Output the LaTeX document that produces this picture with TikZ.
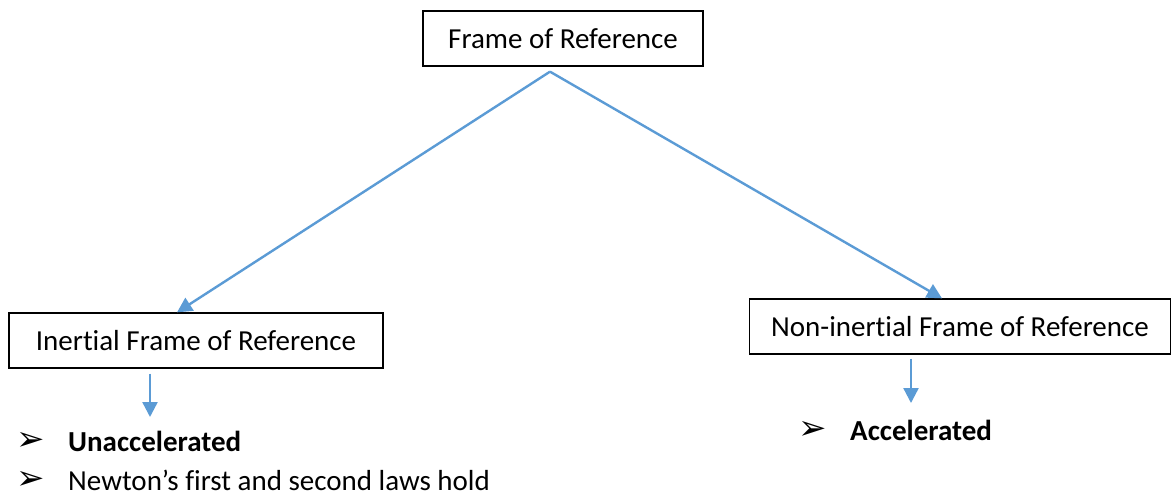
\documentclass[tikz,border=0pt]{standalone}
\usepackage{fontspec}
\setmainfont{Carlito}[Ligatures=NoCommon]
\newfontfamily\symfont{DejaVu Sans}
\usetikzlibrary{arrows.meta}
\definecolor{arrowblue}{RGB}{91,155,213}
\tikzset{
  box/.style={draw=black, line width=1.3pt, rectangle, inner sep=0pt, font=\fontsize{29}{35}\selectfont},
  conn/.style={draw=arrowblue, line width=2.4pt, -{Triangle[length=15pt,width=15pt]}},
  txt/.style={anchor=west, inner sep=0pt, font=\fontsize{29}{35}\selectfont},
  bul/.style={anchor=center, inner sep=0pt, font=\symfont\fontsize{34}{40}\selectfont}
}
\begin{document}
\begin{tikzpicture}[x=1pt,y=-1pt]
\useasboundingbox (0,0) rectangle (1172,496);
\node[box, minimum width=280pt, minimum height=55pt] (top) at (563,38.5) {Frame of Reference};
\node[box, minimum width=374pt, minimum height=55pt] (left) at (196,340.5) {Inertial Frame of Reference};
\node[box, minimum width=421pt, minimum height=55pt] (right) at (960,326.5) {Non-inertial Frame of Reference};
\coordinate (apex) at ([xshift=-13pt,yshift=-5pt]top.south);
\draw[conn] (apex) -- ([xshift=-19pt]left.north);
\draw[conn] (apex) -- ([xshift=-18pt]right.north);
\coordinate (ld) at (150,417);
\coordinate (rd) at (911,403);
\draw[conn] ([xshift=-46pt,yshift=-5pt]left.south) -- (ld);
\draw[conn] ([xshift=-49pt,yshift=-4pt]right.south) -- (rd);
\node[bul] (b1) at (31,441) {➢};
\node[txt] (t1) at (68,441) {\bfseries Unaccelerated};
\node[bul] (b2) at (31,480) {➢};
\node[txt] (t2) at (68,480) {Newton’s first and second laws hold};
\node[bul] (b3) at (813,430) {➢};
\node[txt] (t3) at (850,430) {\bfseries Accelerated};
\end{tikzpicture}
\end{document}
